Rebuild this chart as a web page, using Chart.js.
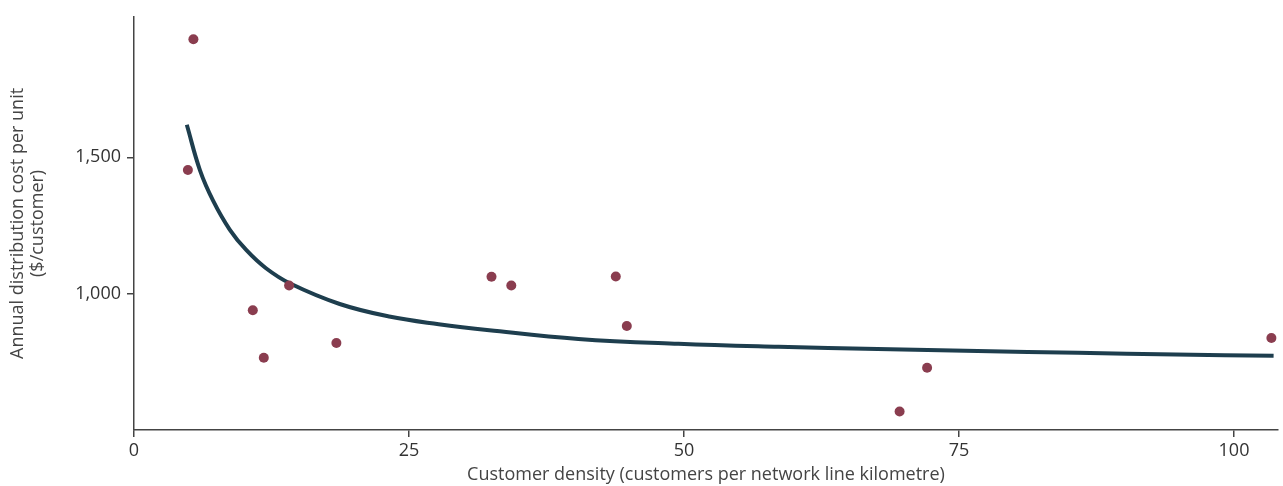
<!DOCTYPE html>
<html lang="en">
<head>
    <meta charset="UTF-8">
    <title>Customer density vs distribution cost</title>
    <script src="https://cdn.jsdelivr.net/npm/chart.js@4.4.1/dist/chart.umd.min.js"></script>
    <style>
        html, body {
            margin: 0;
            padding: 0;
            background: #fff;
        }
        .chart-container {
            position: relative;
            width: 1283px;
            height: 486px;
        }
    </style>
</head>
<body>
    <div class="chart-container">
        <canvas id="costChart"></canvas>
    </div>

    <script>
        // Observed businesses: customer density vs annual cost per customer
        const densityPoints = [5.4, 4.9, 10.8, 11.8, 14.1, 18.4, 32.5, 34.3, 43.8, 44.8, 69.6, 72.1, 103.4];
        const costPoints = [1933, 1453, 939, 765, 1030, 819, 1062, 1030, 1063, 881, 568, 728, 837];

        // Fitted curve
        const curveDensity = [4.8, 6.0, 7.2, 8.7, 10.2, 12.0, 14.2, 18.7, 23.2, 27.7, 32.3, 40.4, 49.5, 58.6, 67.6, 76.7, 85.8, 94.7, 103.6];
        const curveCost = [1619, 1452, 1340, 1235, 1160, 1093, 1037, 962, 916, 888, 866, 834, 816, 805, 797, 790, 783, 777, 772];

        // Axis ticks
        const xTicks = [0, 25, 50, 75, 100];
        const yTicks = [1000, 1500];

        const axisColor = '#444444';
        const textColor = '#333333';
        const fontFamily = '"Open Sans", Lato, sans-serif';

        const ctx = document.getElementById('costChart').getContext('2d');

        new Chart(ctx, {
            data: {
                datasets: [
                    {
                        type: 'scatter',
                        label: 'Businesses',
                        data: densityPoints.map((x, i) => ({ x: x, y: costPoints[i] })),
                        backgroundColor: '#8a3d4f',
                        borderWidth: 0,
                        pointRadius: 5,
                        order: 1
                    },
                    {
                        type: 'line',
                        label: 'Fitted curve',
                        data: curveDensity.map((x, i) => ({ x: x, y: curveCost[i] })),
                        borderColor: '#1e3e4e',
                        borderWidth: 4,
                        pointRadius: 0,
                        tension: 0.4,
                        fill: false,
                        order: 2
                    }
                ]
            },
            options: {
                responsive: true,
                maintainAspectRatio: false,
                animation: false,
                layout: {
                    padding: { top: 14, right: 3, left: 8, bottom: 0 }
                },
                plugins: {
                    legend: { display: false },
                    tooltip: { enabled: false }
                },
                scales: {
                    x: {
                        type: 'linear',
                        min: 0,
                        max: 104,
                        afterBuildTicks: (scale) => {
                            scale.ticks = xTicks.map(v => ({ value: v }));
                        },
                        afterFit: (scale) => {
                            scale.height = 56;
                        },
                        border: { display: true, color: axisColor, width: 1.5 },
                        grid: {
                            drawOnChartArea: false,
                            drawTicks: true,
                            tickLength: 7,
                            color: axisColor,
                            lineWidth: 1.5
                        },
                        ticks: {
                            color: textColor,
                            font: { family: fontFamily, size: 18 },
                            padding: 3,
                            maxRotation: 0
                        },
                        title: {
                            display: true,
                            text: 'Customer density (customers per network line kilometre)',
                            color: '#444',
                            font: { family: fontFamily, size: 18 },
                            padding: { top: 0, bottom: 0 }
                        }
                    },
                    y: {
                        type: 'linear',
                        min: 500,
                        max: 2015,
                        afterBuildTicks: (scale) => {
                            scale.ticks = yTicks.map(v => ({ value: v }));
                        },
                        afterFit: (scale) => {
                            scale.width = 126;
                        },
                        border: { display: true, color: axisColor, width: 1.5 },
                        grid: {
                            drawOnChartArea: false,
                            drawTicks: true,
                            tickLength: 7,
                            color: axisColor,
                            lineWidth: 1.5
                        },
                        ticks: {
                            color: textColor,
                            font: { family: fontFamily, size: 18 },
                            padding: 6,
                            callback: (v) => v.toLocaleString('en-US')
                        },
                        title: {
                            display: true,
                            text: ['Annual distribution cost per unit', '($/customer)'],
                            color: '#444',
                            font: { family: fontFamily, size: 18, lineHeight: 1.1 },
                            padding: { top: 0, bottom: 0 }
                        }
                    }
                }
            }
        });
    </script>
</body>
</html>
